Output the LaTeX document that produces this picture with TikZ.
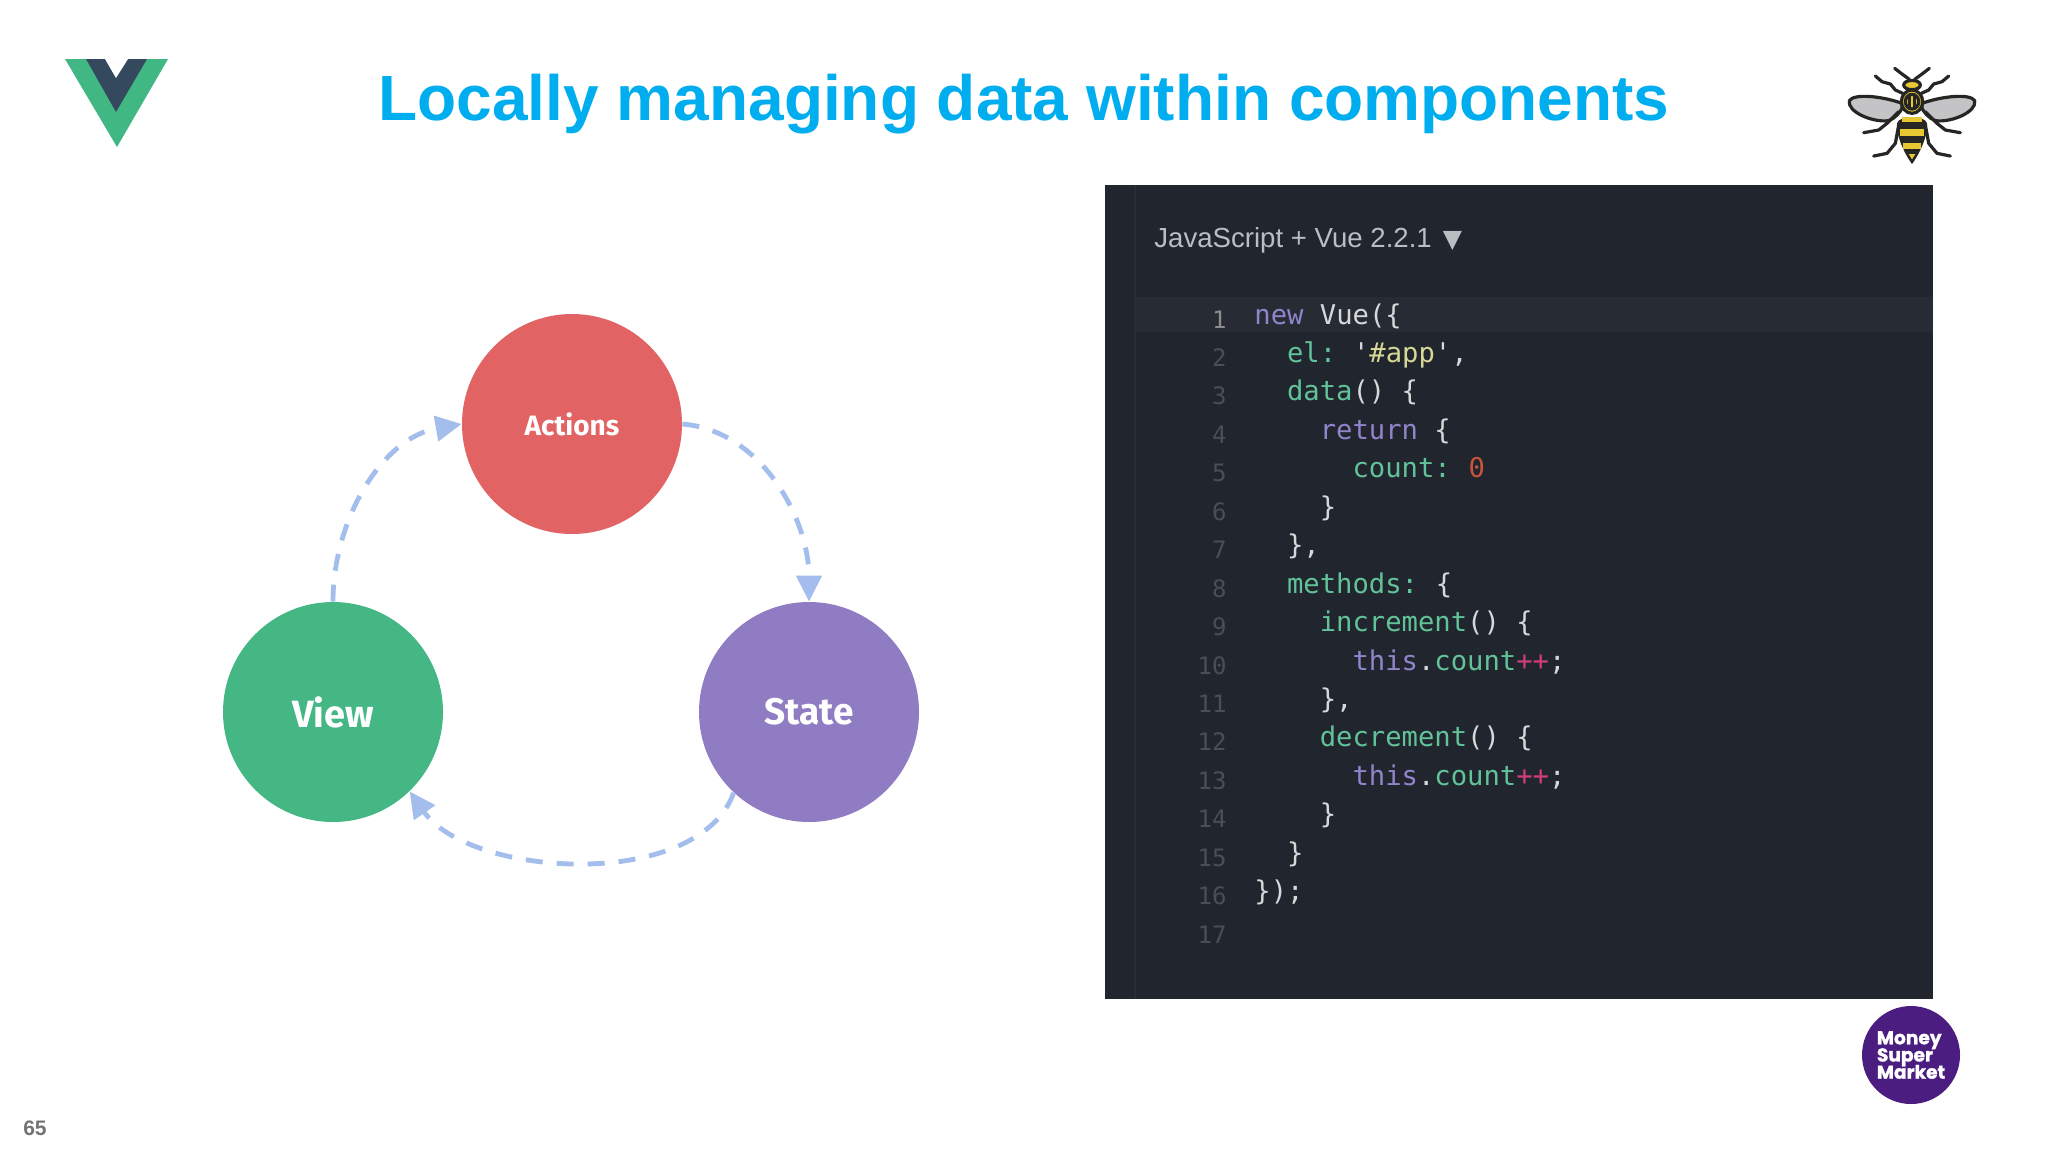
\documentclass[tikz,border=0pt]{standalone}
\usepackage{fontspec}
\usepackage{xcolor}
\setmainfont{Liberation Sans}
\newfontfamily\circfont{Fira Sans}
\newfontfamily\brandfont[BoldFeatures={FakeBold=1.2}]{Poppins}
\newfontfamily\codefont{DejaVu Sans Mono}
\newfontfamily\symfont{DejaVu Sans}
\usetikzlibrary{arrows.meta}
\setlength{\lineskiplimit}{-10pt}
\definecolor{titleblue}{RGB}{0, 174, 239}
\definecolor{vuegreen}{RGB}{65, 184, 131}
\definecolor{vuedark}{RGB}{53, 73, 94}
\definecolor{actionsred}{RGB}{226, 99, 99}
\definecolor{viewgreen}{RGB}{69, 183, 132}
\definecolor{statepurple}{RGB}{143, 124, 195}
\definecolor{flowblue}{RGB}{163, 189, 236}
\definecolor{panelbg}{RGB}{33, 37, 46}
\definecolor{panelrow}{RGB}{39, 43, 51}
\definecolor{panelrule}{RGB}{40, 44, 53}
\definecolor{codeplain}{RGB}{214, 216, 218}
\definecolor{codehead}{RGB}{186, 189, 193}
\definecolor{codekwc}{RGB}{144, 132, 203}
\definecolor{codefnc}{RGB}{98, 194, 152}
\definecolor{codestrc}{RGB}{214, 216, 150}
\definecolor{codenumc}{RGB}{200, 84, 60}
\definecolor{codeopc}{RGB}{208, 62, 122}
\definecolor{lineno}{RGB}{74, 78, 85}
\definecolor{brandpurple}{RGB}{76, 29, 128}
\definecolor{beeyellow}{RGB}{232, 200, 50}
\definecolor{beedark}{RGB}{38, 38, 36}
\definecolor{beewing}{RGB}{196, 196, 198}
\newcommand{\ckw}[1]{\textcolor{codekwc}{#1}}
\newcommand{\cfn}[1]{\textcolor{codefnc}{#1}}
\newcommand{\cstr}[1]{\textcolor{codestrc}{#1}}
\newcommand{\cnum}[1]{\textcolor{codenumc}{#1}}
\newcommand{\cop}[1]{\textcolor{codeopc}{#1}}
\tikzset{
	flowcirc/.style={circle, minimum size=110pt, inner sep=0pt, text=white, font=\circfont\bfseries},
	flowarrow/.style={draw=flowblue, line width=2.4pt, dash pattern=on 8.5pt off 7pt,
		-{Triangle[length=13pt, width=12.5pt, fill=flowblue, sharp]}},
	codeline/.style={anchor=base west, inner sep=0pt, text=codeplain,
		font=\codefont\fontsize{13.6}{16}\selectfont},
	numline/.style={anchor=base east, inner sep=0pt, text=lineno,
		font=\codefont\fontsize{12}{14}\selectfont},
	beeline/.style={draw=beedark, line width=1.6pt, line cap=round, line join=round},
}
\begin{document}
\begin{tikzpicture}[x=0.5pt, y=-0.5pt]
	\useasboundingbox (0,0) rectangle (2048,1152);
	\fill[white] (0,0) rectangle (2048,1152);

	% --- Title and page number ---
	\node[anchor=base, inner sep=0pt, text=titleblue, font=\fontsize{32}{38}\selectfont\bfseries] (title) at (1024,120) {Locally managing data within components};
	\node[anchor=base, inner sep=0pt, text=black!55, font=\fontsize{10.5}{12}\selectfont\bfseries] (pageno) at (35,1135) {65};

	% --- Top left: V logo ---
	\fill[vuegreen] (65,59) -- (168,59) -- (117,147) -- cycle;
	\fill[vuedark] (86,59) -- (147,59) -- (116,112) -- cycle;
	\fill[white] (105,59) -- (128,59) -- (116,78) -- cycle;

	% --- Left: cycle of three circles ---
	\node[flowcirc, fill=actionsred, font=\circfont\bfseries\fontsize{14}{16}\selectfont] (actions) at (572,424) {Actions};
	\node[flowcirc, fill=viewgreen, font=\circfont\bfseries\fontsize{19}{20}\selectfont] (view) at (333,712) {View};
	\node[flowcirc, fill=statepurple, font=\circfont\bfseries\fontsize{18.5}{20}\selectfont] (state) at (809,712) {State};

	\draw[flowarrow] (view.north) to[out=90, in=190, looseness=0.95] (actions.west);
	\draw[flowarrow] (actions.east) to[out=-5, in=90, looseness=0.95] (state.north);
	\draw[flowarrow] (state.227) to[out=250, in=-55, looseness=0.83] (view.-46);

	% --- Right: code panel ---
	\fill[panelbg] (1105,185) rectangle (1933,999);
	\fill[panelrow] (1135,297) rectangle (1933,332);
	\draw[panelrule, line width=0.8pt] (1135,185) -- (1135,999);

	\node[anchor=base west, inner sep=0pt, text=codehead, font=\fontsize{13.8}{16}\selectfont] (lang) at (1154,247) {JavaScript + Vue 2.2.1\hspace{5.5pt}{\symfont\fontsize{12.5}{14}\selectfont ▼}};

	\foreach \i/\ind/\txt in {
		1/0/{\ckw{new} Vue(\{},
		2/2/{\cfn{el:}\hspace{-2.5pt} '\cstr{\#app}',},
		3/2/{\cfn{data}() \{},
		4/4/{\ckw{return} \{},
		5/6/{\cfn{count:}\hspace{-2pt} \cnum{0}},
		6/4/{\}},
		7/2/{\},},
		8/2/{\cfn{methods:}\hspace{-2pt} \{},
		9/4/{\cfn{increment}() \{},
		10/6/{\ckw{this}.\cfn{count}\cop{++};},
		11/4/{\},},
		12/4/{\cfn{decrement}() \{},
		13/6/{\ckw{this}.\cfn{count}\cop{++};},
		14/4/{\}},
		15/2/{\}},
		16/0/{\});}} {
		\node[codeline] (code\i) at (1254+\ind*16.35, 324+\i*38.45-38.45) {\txt};
	}
	\node[numline, text=black!45!white] (num1) at (1227, 328) {1};
	\foreach \i in {2,...,17} {
		\node[numline] (num\i) at (1227, 328+\i*38.45-38.45) {\i};
	}

	% --- Top right: bee ---
	\begin{scope}[shift={(1912,40)}, x=0.1667pt, y=-0.1667pt]
		\foreach \sd in {1,-1} {
			\begin{scope}[xscale=\sd]
				\draw[beeline, fill=beewing] (-30,190) .. controls (-90,168) and (-175,160) .. (-188,182) .. controls (-195,215) and (-120,248) .. (-70,242) .. controls (-50,235) and (-35,215) .. (-30,205) -- cycle;
				\draw[beeline] (-8,118) -- (-30,102) -- (-52,85);
				\draw[beeline] (-28,160) -- (-50,150) -- (-65,132) -- (-90,125) -- (-110,108);
				\draw[beeline] (-40,215) -- (-75,250) -- (-100,270) -- (-145,278);
				\draw[beeline] (-40,255) -- (-50,310) -- (-75,340) -- (-115,348);
			\end{scope}
		}
		\fill[beedark] (0,372) .. controls (-20,345) and (-48,290) .. (-45,250) .. controls (-40,225) and (40,225) .. (45,250) .. controls (48,290) and (20,345) .. (0,372) -- cycle;
		\fill[beeyellow] (-30,232) rectangle (30,246);
		\fill[beeyellow] (-36,266) rectangle (36,288);
		\fill[beeyellow] (-26,308) rectangle (26,328);
		\fill[beeyellow] (0,358) -- (-10,342) -- (10,342) -- cycle;
		\draw[beeline, fill=beeyellow] (0,135) ellipse (25 and 14);
		\draw[beeline, fill=beeyellow] (0,185) ellipse (32 and 35);
		\draw[beeline, fill=beeyellow] (0,185) ellipse (20 and 22);
		\foreach \bx in {-7,7} {
			\draw[beeline] (\bx,170) -- (\bx,200);
		}
	\end{scope}

	% --- Bottom right: badge ---
	\node[circle, fill=brandpurple, minimum size=49pt, inner sep=0pt] (badge) at (1911,1055) {};
	\node[anchor=center, inner sep=0pt, align=left, text=white, font=\brandfont\bfseries\fontsize{9.3}{8.6}\selectfont] (badgetext) at (badge.center) {Money\\Super\\Market};
\end{tikzpicture}
\end{document}
